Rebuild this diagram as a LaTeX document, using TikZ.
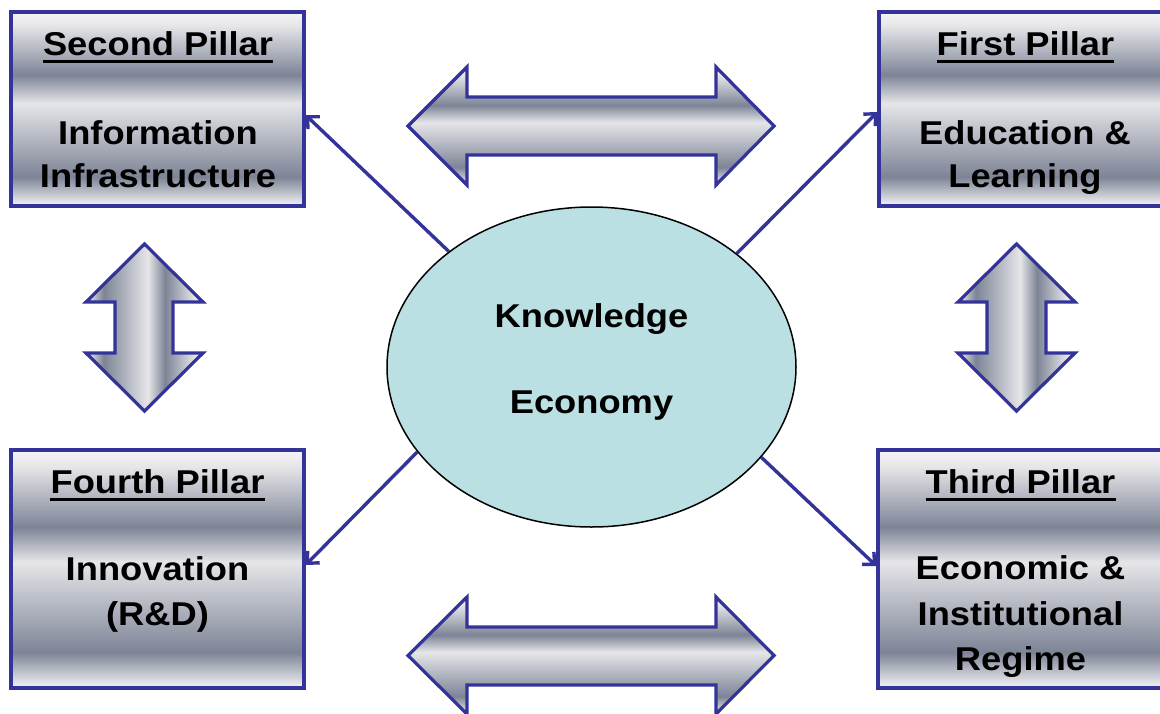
\documentclass[tikz,border=0pt]{standalone}
\usepackage{fontspec}
\setmainfont{Liberation Sans}[FakeStretch=1.1]
\usetikzlibrary{shapes.geometric,arrows.meta}
\definecolor{bord}{RGB}{51,51,153}
\definecolor{sdark}{RGB}{125,132,150}
\definecolor{slight}{RGB}{230,230,233}
\definecolor{sedge}{RGB}{245,245,247}
\definecolor{ellfill}{RGB}{187,224,227}
\pgfdeclareverticalshading{silverv}{100bp}{color(0bp)=(sedge); color(25bp)=(sedge); color(32.5bp)=(sdark); color(51.5bp)=(slight); color(58.75bp)=(sdark); color(71.5bp)=(slight); color(75bp)=(sedge); color(100bp)=(sedge)}
\pgfdeclarehorizontalshading{silverh}{100bp}{color(0bp)=(sedge); color(25bp)=(sedge); color(32.5bp)=(sdark); color(51.5bp)=(slight); color(58.75bp)=(sdark); color(71.5bp)=(slight); color(75bp)=(sedge); color(100bp)=(sedge)}
\tikzset{
  pillar/.style={draw=bord, line width=3.2pt, shade, shading=silverv, inner sep=0pt, minimum width=293pt},
  txt/.style={anchor=base, inner sep=0pt, font=\fontsize{33}{40}\selectfont\bfseries},
  uline/.style={line width=2.5pt},
  conn/.style={draw=bord, line width=3.4pt, -{Straight Barb[length=9pt,width=17pt]}},
  barrowh/.style={shade, shading=silverv, draw=bord, line width=3.2pt, line join=miter},
  barrowv/.style={shade, shading=silverh, draw=bord, line width=3.2pt, line join=miter}
}
\begin{document}
\begin{tikzpicture}[x=1pt,y=-1pt]
\useasboundingbox (0,0) rectangle (1160,713);
\clip (0,0) rectangle (1160,713);
% pillar boxes
\node[pillar, minimum height=194pt] (b2) at (157.5,109) {};
\node[pillar, minimum height=194pt] (b1) at (1025.5,109) {};
\node[pillar, minimum height=238pt] (b4) at (157.5,569) {};
\node[pillar, minimum height=238pt, minimum width=294pt] (b3) at (1025,569) {};
% texts second pillar
\node[txt] (t2) at (158,55) {Second Pillar};
\draw[uline] ([yshift=-6.5pt]t2.base west) -- ([yshift=-6.5pt]t2.base east);
\node[txt] (t2a) at (158,144) {Information};
\node[txt] (t2b) at (158,187) {Infrastructure};
% first pillar
\node[txt] (t1) at (1025.5,55) {First Pillar};
\draw[uline] ([yshift=-6.5pt]t1.base west) -- ([yshift=-6.5pt]t1.base east);
\node[txt] (t1a) at (1025,144) {Education \&};
\node[txt] (t1b) at (1025,187) {Learning};
% fourth pillar
\node[txt] (t4) at (157.5,493) {Fourth Pillar};
\draw[uline] ([yshift=-6.5pt]t4.base west) -- ([yshift=-6.5pt]t4.base east);
\node[txt] (t4a) at (157.5,580) {Innovation};
\node[txt] (t4b) at (157.5,625) {(R\&D)};
% third pillar
\node[txt] (t3) at (1020.5,493) {Third Pillar};
\draw[uline] ([yshift=-6.5pt]t3.base west) -- ([yshift=-6.5pt]t3.base east);
\node[txt] (t3a) at (1020.5,579) {Economic \&};
\node[txt] (t3b) at (1020.5,625) {Institutional};
\node[txt] (t3c) at (1020.5,670) {Regime};
% central ellipse
\node[ellipse, draw=black, line width=1.5pt, fill=ellfill, minimum width=409pt, minimum height=320pt, inner sep=0pt] (ke) at (591.5,367) {};
\node[txt] (k1) at (591.5,327) {Knowledge};
\node[txt] (k2) at (591.5,413) {Economy};
% connectors
\draw[conn] (ke.141.8) -- ([yshift=-6pt]b2.east);
\draw[conn] (ke.38) -- ([yshift=-3pt]b1.west);
\draw[conn] (ke.206) -- ([yshift=4pt]b4.east);
\draw[conn] (ke.-28.7) -- ([yshift=3pt]b3.west);
% horizontal double arrows
\path[barrowh] (408,126) -- (467,67) -- (467,97) -- (716,97) -- (716,67) -- (774,126) -- (716,185) -- (716,155) -- (467,155) -- (467,185) -- cycle;
\path[barrowh] (408,655.5) -- (467,597) -- (467,627) -- (716,627) -- (716,597) -- (774,655.5) -- (716,714) -- (716,685) -- (467,685) -- (467,714) -- cycle;
% vertical double arrows
\path[barrowv] (144.5,244) -- (203,302) -- (173,302) -- (173,353) -- (203,353) -- (144.5,411) -- (86,353) -- (115,353) -- (115,302) -- (86,302) -- cycle;
\path[barrowv] (1016.5,244) -- (1075,302) -- (1046,302) -- (1046,353) -- (1075,353) -- (1016.5,411) -- (958,353) -- (987,353) -- (987,302) -- (958,302) -- cycle;
\end{tikzpicture}
\end{document}
